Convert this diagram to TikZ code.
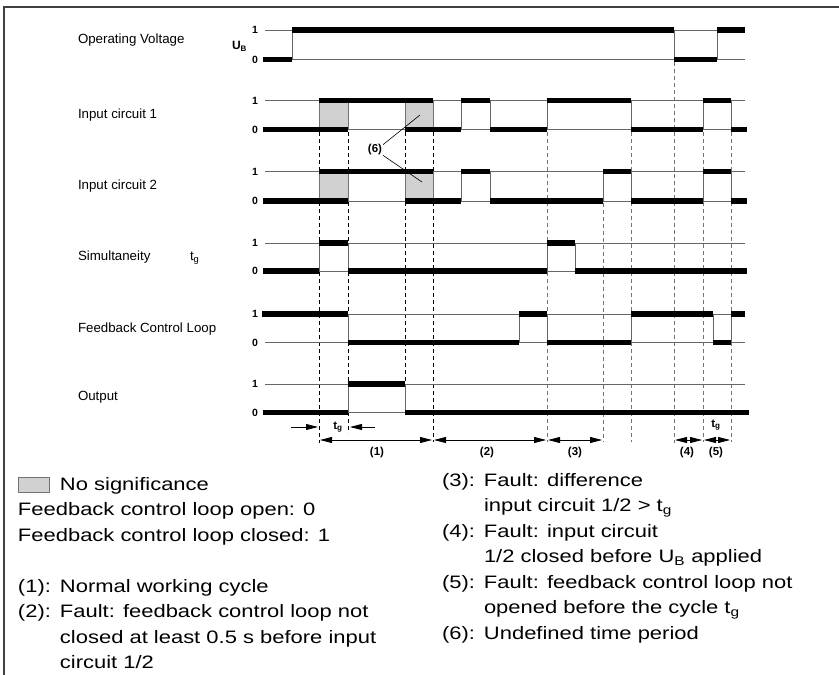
\documentclass[tikz,border=0pt]{standalone}
\usepackage{fontspec}
\setmainfont{Liberation Sans}
\newfontfamily\legfont[FakeStretch=1.22]{Liberation Sans}
\usetikzlibrary{arrows.meta}

\begin{document}
\begin{tikzpicture}[
    x=1pt, y=-1pt,
    every node/.style={inner sep=0pt, outer sep=0pt},
    siglab/.style={font=\fontsize{13.3}{16}\selectfont, anchor=base west},
    lvllab/.style={font=\fontsize{10.5}{12}\selectfont\bfseries, anchor=east},
    numlab/.style={font=\fontsize{11.5}{13}\selectfont\bfseries},
    bar/.style={line width=5.5pt},
    lvl/.style={draw=black!60, line width=0.8pt},
    guide/.style={dash pattern=on 4pt off 3pt, line width=0.8pt},
    dimarrow/.style={{Triangle[length=12pt, width=6pt]}-{Triangle[length=12pt, width=6pt]}, line width=0.8pt},
    tgarrow/.style={-{Triangle[length=12pt, width=6pt]}, line width=0.8pt},
    nosig/.style={fill=black!18, draw=black!55, line width=0.7pt},
    legend/.style={font=\legfont\fontsize{18}{25.5}\selectfont, anchor=north west, align=left},
]
\useasboundingbox (0,0) rectangle (839,675);

% ===== FRAME =====
\draw[black!75, line width=1.2pt] (4,675) -- (4,7) -- (839,7);

% ===== GUIDE LINES =====
\draw[guide] (319,132) -- (319,443) (348,132) -- (348,433)
    (405,132) -- (405,412) (433,132) -- (433,442);
\draw[guide, black!55] (547,132) -- (547,442) (603,203) -- (603,442)
    (631,132) -- (631,442) (674,62) -- (674,443)
    (703,132) -- (703,442) (731,132) -- (731,442);

% No significance areas
\draw[nosig] (319,100.5) rectangle (348,129.5) (405,100.5) rectangle (433,129.5)
    (319,171.5) rectangle (348,201) (405,171.5) rectangle (433,201);

% ===== LEVEL LINES =====
\draw[lvl] (265,30) -- (745,30) (265,59.5) -- (745,59.5);
\draw[lvl] (265,100.5) -- (745,100.5) (265,129.5) -- (745,129.5);
\draw[lvl] (265,171.5) -- (745,171.5) (265,201) -- (745,201);
\draw[lvl] (265,243) -- (745,243) (265,271) -- (745,271);
\draw[lvl] (265,314) -- (745,314) (265,342.5) -- (745,342.5);
\draw[lvl] (265,384) -- (745,384) (265,412.5) -- (745,412.5);

% Transitions
\draw[lvl] (292,30) -- (292,59.5) (674,30) -- (674,59.5) (717,30) -- (717,59.5);
\draw[lvl] (461,100.5) -- (461,129.5) (490,100.5) -- (490,129.5)
    (547,100.5) -- (547,129.5) (631,100.5) -- (631,129.5)
    (703,100.5) -- (703,129.5) (731,100.5) -- (731,129.5);
\draw[lvl] (461,171.5) -- (461,201) (490,171.5) -- (490,201)
    (603,171.5) -- (603,201) (631,171.5) -- (631,201)
    (703,171.5) -- (703,201) (731,171.5) -- (731,201);
\draw[lvl] (319,243) -- (319,271) (348,243) -- (348,271)
    (547,243) -- (547,271) (575,243) -- (575,271);
\draw[lvl] (348,314) -- (348,342.5) (519,314) -- (519,342.5)
    (547,314) -- (547,342.5) (631,314) -- (631,342.5)
    (713,314) -- (713,342.5) (731,314) -- (731,342.5);
\draw[lvl] (348,384) -- (348,412.5) (405,384) -- (405,412.5);

% ===== SIGNALS =====
% Operating voltage
\draw[bar] (263,59.5) -- (292,59.5) (292,30) -- (674,30)
    (674,59.5) -- (717,59.5) (717,30) -- (745,30);
% Input circuit 1
\draw[bar] (263,129.5) -- (348,129.5) (319,100.5) -- (433,100.5)
    (405,129.5) -- (461,129.5) (461,100.5) -- (490,100.5)
    (490,129.5) -- (547,129.5) (547,100.5) -- (631,100.5)
    (631,129.5) -- (703,129.5) (703,100.5) -- (731,100.5)
    (731,129.5) -- (747,129.5);
% Input circuit 2
\draw[bar] (263,201) -- (348,201) (319,171.5) -- (433,171.5)
    (405,201) -- (461,201) (461,171.5) -- (490,171.5)
    (490,201) -- (603,201) (603,171.5) -- (631,171.5)
    (631,201) -- (703,201) (703,171.5) -- (731,171.5)
    (731,201) -- (747,201);
% Simultaneity
\draw[bar] (263,271) -- (319,271) (319,243) -- (348,243)
    (348,271) -- (547,271) (547,243) -- (575,243) (575,271) -- (747,271);
% Feedback control loop
\draw[bar] (262,314) -- (348,314) (348,342.5) -- (519,342.5)
    (519,314) -- (547,314) (547,342.5) -- (631,342.5)
    (631,314) -- (713,314) (713,342.5) -- (731,342.5) (731,314) -- (745,314);
% Output
\draw[bar] (263,412.5) -- (348,412.5) (348,384) -- (405,384) (405,412.5) -- (749,412.5);

% ===== SIGNAL LABELS =====
\node[siglab] (opv) at (78,43) {Operating Voltage};
\node[siglab] (in1) at (78,118) {Input circuit 1};
\node[siglab] (in2) at (78,189.5) {Input circuit 2};
\node[siglab] (sim) at (78,260) {Simultaneity};
\node[siglab] (tgs) at (190,260) {t\textsubscript{g}};
\node[siglab] (fbl) at (78,332) {Feedback Control Loop};
\node[siglab] (out) at (78,400.5) {Output};
\node[font=\fontsize{12}{14}\selectfont\bfseries, anchor=base west] (ub) at (232,49.5) {U\textsubscript{B}};

\node[lvllab] (ub-1) at (258,30) {1};
\node[lvllab] (ub-0) at (258,60) {0};
\node[lvllab] (in1-1) at (258,100.5) {1};
\node[lvllab] (in1-0) at (258,129.5) {0};
\node[lvllab] (in2-1) at (258,171.5) {1};
\node[lvllab] (in2-0) at (258,201) {0};
\node[lvllab] (sim-1) at (258,243) {1};
\node[lvllab] (sim-0) at (258,271) {0};
\node[lvllab] (fbl-1) at (258,314) {1};
\node[lvllab] (fbl-0) at (258,342.5) {0};
\node[lvllab] (out-1) at (258,384) {1};
\node[lvllab] (out-0) at (258,412.5) {0};

% Undefined period marker
\node[numlab] (six) at (375,150) {(6)};
\coordinate (six-a) at (420,115);
\coordinate (six-b) at (422,182);
\draw[line width=0.6pt] ([xshift=1pt]six.north east) -- (six-a);
\draw[line width=0.6pt] ([xshift=1pt]six.south east) -- (six-b);

% ===== TIME SPANS =====
\draw[tgarrow] (291,427) -- (318,427);
\draw[tgarrow] (375,427) -- (350,427);
\node[numlab] (tg1) at (338,427) {t\textsubscript{g}};

\draw[dimarrow] (320,440) -- (432,440);
\draw[dimarrow] (434,440) -- (546,440);
\draw[dimarrow] (548,440) -- (602,440);
\draw[dimarrow] (675,440) -- (702,440);
\draw[dimarrow] (704,440) -- (730,440);
\node[numlab] (tg5) at (716,425) {t\textsubscript{g}};

\node[numlab] (span1) at (377,453) {(1)};
\node[numlab] (span2) at (487,453) {(2)};
\node[numlab] (span3) at (575,453) {(3)};
\node[numlab] (span4) at (687,453) {(4)};
\node[numlab] (span5) at (716,453) {(5)};

% ===== LEGEND =====
\draw[nosig] (18,477) rectangle (49,492);
\node[legend] (legL) at (18,472.5) {%
  \begin{tabular}{@{}p{42pt}@{}l@{}}
   & No significance\\
  \multicolumn{2}{@{}l@{}}{Feedback control loop open: 0}\\
  \multicolumn{2}{@{}l@{}}{Feedback control loop closed: 1}\\
   & \\
  (1): & Normal working cycle\\
  (2): & Fault: feedback control loop not\\
   & closed at least 0.5 s before input\\
   & circuit 1/2
  \end{tabular}};
\node[legend] (legR) at (442,468.5) {%
  \begin{tabular}{@{}p{42pt}@{}l@{}}
  (3): & Fault: difference\\
   & input circuit 1/2 > t\textsubscript{g}\\
  (4): & Fault: input circuit\\
   & 1/2 closed before U\textsubscript{B} applied\\
  (5): & Fault: feedback control loop not\\
   & opened before the cycle t\textsubscript{g}\\
  (6): & Undefined time period
  \end{tabular}};
\end{tikzpicture}
\end{document}
